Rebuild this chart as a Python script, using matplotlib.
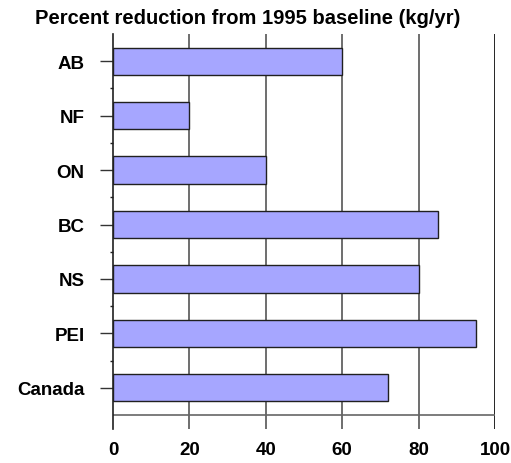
import numpy as np
import matplotlib.pyplot as plt

plt.rcParams['font.family'] = ['Liberation Sans', 'DejaVu Sans']

# data (top to bottom as in the chart)
regions = ['AB', 'NF', 'ON', 'BC', 'NS', 'PEI', 'Canada']
reduction = [60, 20, 40, 85, 80, 95, 72]
xticks = [0, 20, 40, 60, 80, 100]

fig = plt.figure(figsize=(5.11, 4.64), dpi=100)
ax = fig.add_axes([113 / 511, 1 - 430 / 464, 382 / 511, 395 / 464])

ypos = np.arange(len(regions))[::-1]
ax.barh(ypos, reduction, height=0.5, color='#a6a6ff', edgecolor='#202020',
        linewidth=1, zorder=3)

# vertical grid lines
for x in xticks[1:-1]:
    ax.axvline(x, color='#555555', linewidth=1.2, zorder=1)
ax.axvline(100, color='black', linewidth=1.2, zorder=1)
ax.axhline(-0.5, color='#666666', linewidth=1.2, zorder=1)

ax.set_xlim(0, 100)
ax.set_ylim(-0.5 - 14 / 54.5, len(regions) - 0.5)

for s in ['top', 'right', 'bottom']:
    ax.spines[s].set_visible(False)
ax.spines['left'].set_color('#202020')
ax.spines['left'].set_linewidth(1.2)

ax.set_yticks(ypos)
ax.set_yticklabels(regions, fontsize=13.5, fontweight='bold')
ax.set_yticks(np.arange(-0.5, len(regions) - 0.5, 1)[1:], minor=True)
ax.tick_params(axis='y', which='major', length=9.5, width=1, color='#333333', pad=11)
ax.tick_params(axis='y', which='minor', length=2, width=1, color='#222222')

ax.set_xticks(xticks)
ax.set_xticklabels([str(v) for v in xticks], fontsize=13.5, fontweight='bold')
ax.tick_params(axis='x', length=0, pad=9)

fig.text(248 / 511, 1 - 19 / 464, 'Percent reduction from 1995 baseline (kg/yr)',
         ha='center', va='center', fontsize=14.5, fontweight='bold')

fig.savefig('out.png', dpi=100)
